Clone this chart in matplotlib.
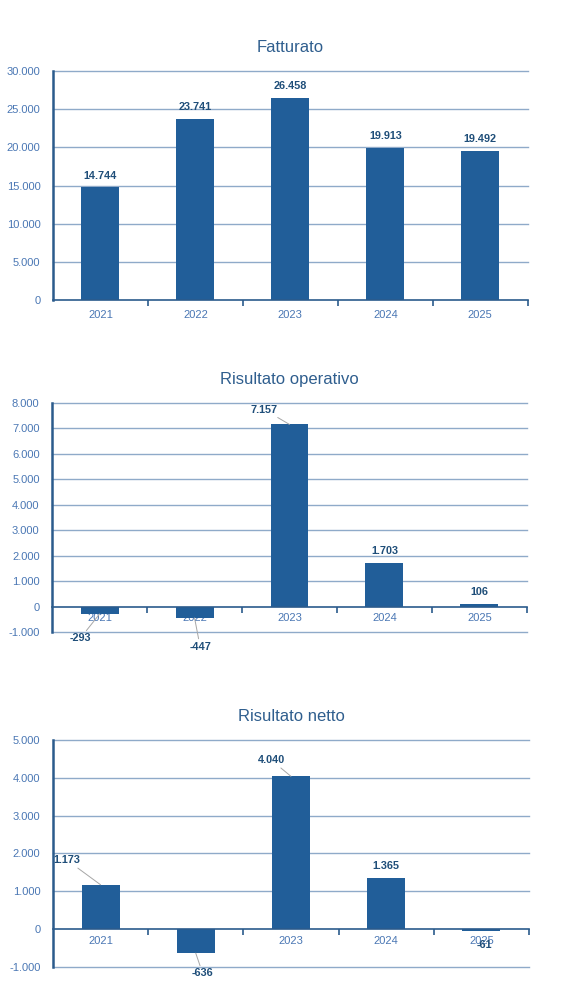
import matplotlib
matplotlib.use("Agg")
import matplotlib.pyplot as plt
from matplotlib.ticker import FuncFormatter, FixedLocator

plt.rcParams['font.family'] = ['Liberation Sans', 'DejaVu Sans']

years = ["2021", "2022", "2023", "2024", "2025"]
fatturato = [14744, 23741, 26458, 19913, 19492]
risultato_operativo = [-293, -447, 7157, 1703, 106]
risultato_netto = [1173, -636, 4040, 1365, -61]

titles = ["Fatturato", "Risultato operativo", "Risultato netto"]

BAR = "#215E99"
GRID = "#8FAAC9"
AXIS = "#2B5B8C"
TICK = "#4A77B4"
TITLE = "#2F5E8E"
LABEL = "#1F4E79"
LEADER = "#A6A6A6"

def fmt(v):
    s = f"{abs(int(round(v))):,}".replace(",", ".")
    return ("-" if v < 0 else "") + s

fig = plt.figure(figsize=(5.79, 10.06), dpi=100)

specs = [
    (fatturato, [0.0915, 0.7018, 0.820, 0.2276], (0, 30000), 5000),
    (risultato_operativo, [0.0900, 0.3718, 0.820, 0.2276], (-1000, 8000), 1000),
    (risultato_netto, [0.0915, 0.0388, 0.822, 0.2256], (-1000, 5000), 1000),
]

# label offsets in points (dx, dy) and whether to draw leader line
offsets = [
    [(0, 5, False), (0, 5, False), (0, 5, False), (0, 5, False), (0, 5, False)],
    [(-14, -14, True), (4, -17, True), (-18, 7, True), (0, 5, False), (0, 5, False)],
    [(-24, 14, True), (5, -11, True), (-14, 8, True), (0, 5, False), (2, -6, False)],
]

for idx, (vals, pos, ylim, step) in enumerate(specs):
    ax = fig.add_axes(pos)
    x = list(range(len(years)))
    ax.bar(x, vals, width=0.4, color=BAR, zorder=3)
    ax.set_xlim(-0.5, 4.5)
    ax.set_ylim(*ylim)
    yt = list(range(ylim[0], ylim[1] + 1, step))
    ax.set_yticks(yt)
    ax.yaxis.set_major_formatter(FuncFormatter(lambda v, p: fmt(v)))
    for v in yt:
        if v != 0:
            ax.axhline(v, color=GRID, lw=1.0, zorder=1, clip_on=False)
    for s in ["top", "right"]:
        ax.spines[s].set_visible(False)
    ax.spines["left"].set_color(AXIS)
    ax.spines["left"].set_linewidth(1.8)
    ax.spines["bottom"].set_position(("data", 0))
    ax.spines["bottom"].set_color(AXIS)
    ax.spines["bottom"].set_linewidth(1.2)
    ax.spines["bottom"].set_zorder(4)
    ax.set_xticks(x)
    ax.set_xticklabels(years)
    ax.xaxis.set_minor_locator(FixedLocator([0.5, 1.5, 2.5, 3.5, 4.5]))
    ax.tick_params(axis="x", which="major", length=0, pad=7 if idx == 0 else 5,
                   labelsize=8, labelcolor=TICK)
    ax.tick_params(axis="x", which="minor", length=4, width=1.2, color=AXIS, direction="out")
    ax.tick_params(axis="y", length=0, labelsize=8, labelcolor=TICK, pad=9)
    ax.set_title(titles[idx], fontsize=12, color=TITLE, pad=14)
    for i, v in enumerate(vals):
        dx, dy, leader = offsets[idx][i]
        va = "bottom" if dy > 0 else "top"
        ap = dict(arrowstyle="-", color=LEADER, lw=0.7, shrinkA=0, shrinkB=0) if leader else None
        ax.annotate(fmt(v), xy=(i, v), xytext=(dx, dy), textcoords="offset points",
                    ha="center", va=va, fontsize=7.8, fontweight="bold", color=LABEL,
                    arrowprops=ap, zorder=5)

fig.savefig("out.png", dpi=100)
